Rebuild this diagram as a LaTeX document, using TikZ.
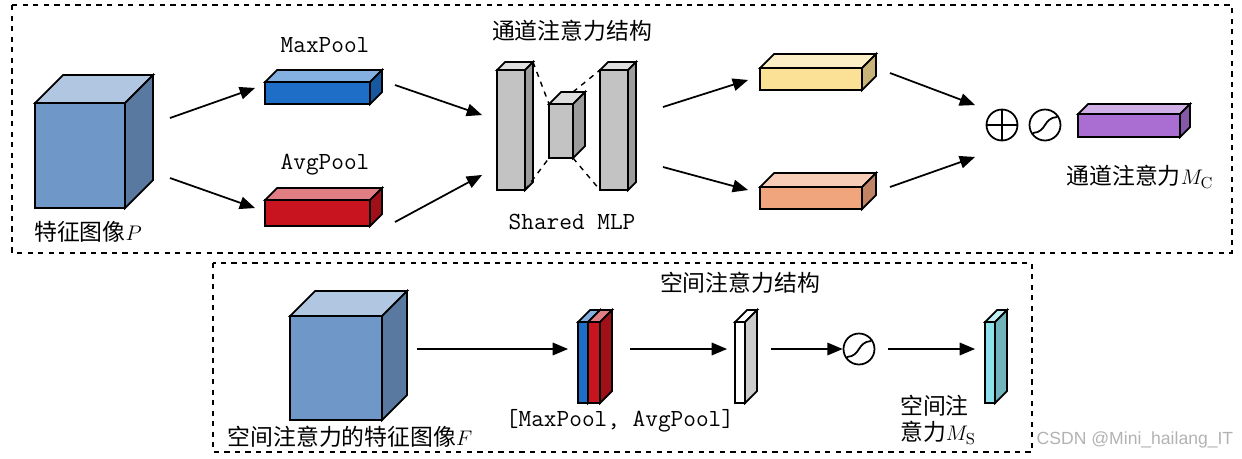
\documentclass[tikz,border=0pt]{standalone}
\usepackage{fontspec}
\newfontfamily\cjk{Noto Sans CJK SC}
\newfontfamily\wmfont{Liberation Sans}
\usetikzlibrary{arrows,calc}

% colours of the blocks
\definecolor{cubeblue}{RGB}{111,151,200}
\definecolor{maxblue}{RGB}{30,110,200}
\definecolor{avgred}{RGB}{200,20,30}
\definecolor{mlpgrey}{RGB}{195,195,195}
\definecolor{outyel}{RGB}{250,225,150}
\definecolor{outora}{RGB}{240,165,125}
\definecolor{outpur}{RGB}{170,110,210}
\definecolor{outcya}{RGB}{140,225,235}

% 3d block: x, y (front top-left), width, height, depth, colour
\newcommand\blk[6]{%
  \filldraw[fill=#6!55!white] (#1,#2) -- ++(#5,-#5) -- ++(#3,0) -- ++(-#5,#5) -- cycle;
  \filldraw[fill=#6!80!black] (#1+#3,#2) -- ++(#5,-#5) -- ++(0,#4) -- ++(-#5,#5) -- cycle;
  \filldraw[fill=#6] (#1,#2) rectangle ++(#3,#4);}

\begin{document}
\begin{tikzpicture}[>=triangle 45,x=0.02cm,y=-0.02cm,line width=1pt,
lbl/.style={font=\cjk\fontsize{13}{15}\selectfont, inner sep=1pt, align=left},
tlbl/.style={font=\ttfamily\fontsize{14}{16}\selectfont, inner sep=1pt},
frame/.style={dashed, line width=0.8pt},
flow/.style={->, line width=1pt},
sig/.style={circle, draw, line width=1pt, minimum size=0.62cm, inner sep=0pt}]
\useasboundingbox (0,0) rectangle (1242,458);

\draw[frame] (12,5) rectangle (1232,253);
\draw[frame] (213,263) rectangle (1032,452);

% channel attention
\blk{35}{103}{90}{105}{28}{cubeblue}
\blk{265}{82}{105}{22}{12}{maxblue}
\blk{265}{200}{105}{26}{12}{avgred}
\blk{497}{70}{28}{120}{8}{mlpgrey}
\blk{549}{104}{24}{54}{12}{mlpgrey}
\blk{600}{70}{28}{120}{8}{mlpgrey}
\draw[dashed, line width=0.8pt] (533,62) -- (549,104) (525,190) -- (549,158)
  (573,92) -- (600,70) (573,158) -- (600,190);
\blk{760}{68}{102}{22}{14}{outyel}
\blk{760}{187}{102}{22}{14}{outora}
\blk{1078}{114}{102}{23}{10}{outpur}

\node[sig] (plus) at (1002,125) {};
\draw (plus.north) -- (plus.south) (plus.west) -- (plus.east);
\node[sig] (sigc) at (1045,125) {};
\draw ($(sigc)+(-12,8)$) .. controls ($(sigc)+(2,7)$) and ($(sigc)+(-2,-7)$) .. ($(sigc)+(12,-8)$);

\node[tlbl] (lmax) at (325,45) {MaxPool};
\node[tlbl] (lavg) at (325,165) {AvgPool};
\node[lbl] (lcs) at (572,31) {通道注意力结构};
\node[tlbl] (lmlp) at (572,222) {Shared MLP};
\node[lbl] (lp) at (88,232) {特征图像$P$};
\node[lbl] (lmc) at (1140,177) {通道注意力$M_{\mathrm{C}}$};

\coordinate (a1) at (170,118); \coordinate (b1) at (255,88);
\coordinate (a2) at (170,178); \coordinate (b2) at (255,208);
\coordinate (a3) at (395,85);  \coordinate (b3) at (482,115);
\coordinate (a4) at (395,222); \coordinate (b4) at (482,175);
\coordinate (a5) at (663,107); \coordinate (b5) at (748,80);
\coordinate (a6) at (663,167); \coordinate (b6) at (748,190);
\coordinate (a7) at (890,73);  \coordinate (b7) at (975,105);
\coordinate (a8) at (890,187); \coordinate (b8) at (975,157);
\foreach \i in {1,...,8} \draw[flow] (a\i) -- (b\i);

% spatial attention
\blk{290}{316}{92}{104}{25}{cubeblue}
\blk{578}{322}{10}{81}{12}{maxblue}
\blk{588}{322}{12}{81}{12}{avgred}
\blk{735}{322}{10}{81}{12}{white}
\blk{985}{322}{10}{81}{12}{outcya}
\node[sig] (sigs) at (859,349) {};
\draw ($(sigs)+(-12,8)$) .. controls ($(sigs)+(2,7)$) and ($(sigs)+(-2,-7)$) .. ($(sigs)+(12,-8)$);

\node[lbl] (lss) at (740,283) {空间注意力结构};
\node[lbl] (lf) at (350,437) {空间注意力的特征图像$F$};
\node[tlbl] (lcat) at (620,421) {[MaxPool, AvgPool]};
\node[lbl, align=left] (lms) at (938,420) {空间注\\意力$M_{\mathrm{S}}$};
\node[font=\wmfont\fontsize{10}{12}\selectfont, text=gray!60] (wm) at (1135,440) {CSDN @Mini\_hailang\_IT};

\coordinate (c1) at (417,349); \coordinate (d1) at (568,349);
\coordinate (c2) at (630,349); \coordinate (d2) at (727,349);
\coordinate (c3) at (888,349); \coordinate (d3) at (975,349);
\coordinate (c4) at (771,349);
\foreach \i in {1,2,3} \draw[flow] (c\i) -- (d\i);
\draw[flow] (c4) -- (sigs);
\end{tikzpicture}
\end{document}
